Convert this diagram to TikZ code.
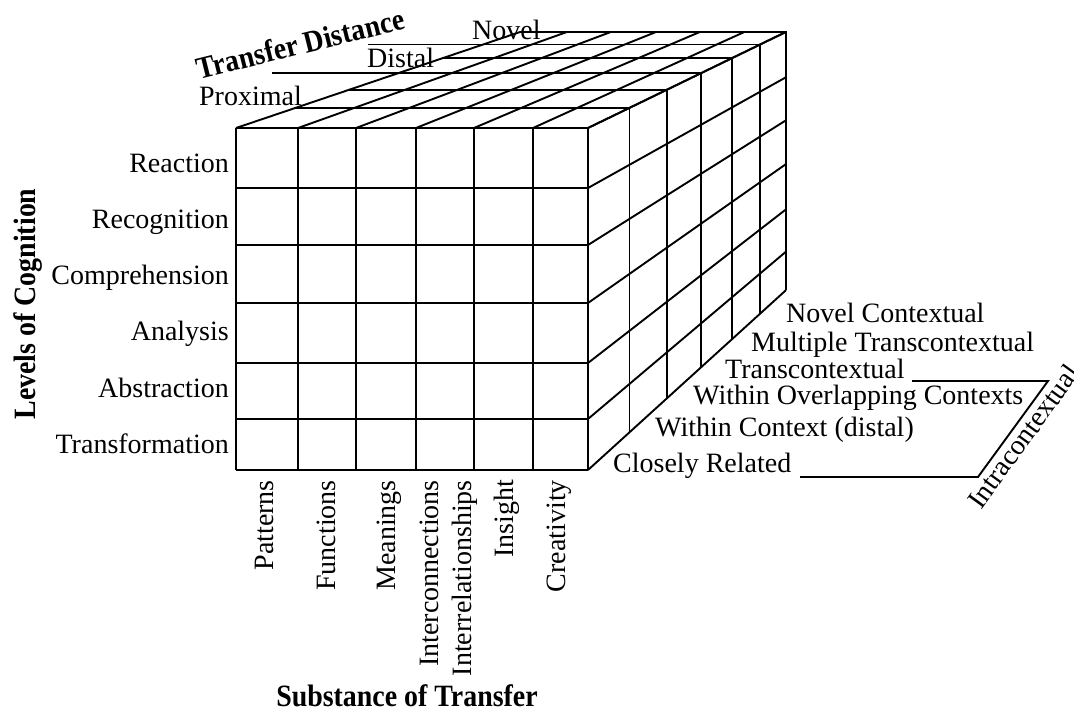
\documentclass[tikz,border=0pt]{standalone}
\usepackage{fontspec}
\setmainfont{Liberation Serif}
\begin{document}
\begin{tikzpicture}[x=1pt,y=-1pt,
  grid/.style={line width=1.9pt},
  lbl/.style={inner sep=0pt, font=\fontsize{28}{33}\selectfont},
  title/.style={inner sep=0pt, font=\fontsize{31}{35}\selectfont\bfseries}]
\useasboundingbox (0,0) rectangle (1074,712);

% vanishing point of the receding edges
\def\vpx{1396}\def\vpy{-264}
\pgfmathsetmacro\sb{1/(1+0.0541*6)}

% front face: 6 x 6 grid
\foreach \x in {236,298,356,416,474,533,588}
  \draw[grid] (\x,128) -- (\x,470);
\foreach \y in {128,188,245,303,363,419,470}
  \draw[grid] (236,\y) -- (588,\y);

% depth slices: top-face rows and right-face columns
\foreach \k in {0,...,6}{
  \pgfmathsetmacro\s{1/(1+0.0541*\k)}
  \pgfmathsetmacro\xl{\vpx+(236-\vpx)*\s}
  \pgfmathsetmacro\xr{\vpx+(588-\vpx)*\s}
  \pgfmathsetmacro\yt{\vpy+(128-\vpy)*\s}
  \pgfmathsetmacro\yb{\vpy+(470-\vpy)*\s}
  \draw[grid] (\xl,\yt) -- (\xr,\yt) -- (\xr,\yb);
  \coordinate (L\k) at (\xl,\yt);
}

% receding edges of the top face
\foreach \x in {236,298,356,416,474,533,588}
  \draw[grid] (\x,128) -- ({\vpx+(\x-\vpx)*\sb},{\vpy+(128-\vpy)*\sb});
% receding edges of the right face
\foreach \y in {128,188,245,303,363,419,470}
  \draw[grid] (588,\y) -- ({\vpx+(588-\vpx)*\sb},{\vpy+(\y-\vpy)*\sb});

% transfer distance markers
\draw[grid] (L3) -- ++(-126,0);
\draw[grid] (L5) -- ++(-115,0);
\node[title, rotate=14, xscale=0.9, anchor=base] (td) at (303,54) {Transfer Distance};
\node[lbl, anchor=base east] (prox) at (302,105) {Proximal};
\node[lbl, anchor=base west] (dist) at (367,67) {Distal};
\node[lbl, anchor=base west] (nov) at (472,39) {Novel};

% levels of cognition
\node[title, rotate=90, xscale=0.9, anchor=base] (loc) at (35,304) {Levels of Cognition};
\node[lbl, anchor=base east] (r1) at (229,172) {Reaction};
\node[lbl, anchor=base east] (r2) at (229,228) {Recognition};
\node[lbl, anchor=base east] (r3) at (229,284) {Comprehension};
\node[lbl, anchor=base east] (r4) at (229,340) {Analysis};
\node[lbl, anchor=base east] (r5) at (229,397) {Abstraction};
\node[lbl, anchor=base east] (r6) at (229,453) {Transformation};

% substance of transfer
\node[lbl, rotate=90, anchor=base east] (c1) at (273,480) {Patterns};
\node[lbl, rotate=90, anchor=base east] (c2) at (335,480) {Functions};
\node[lbl, rotate=90, anchor=base east] (c3) at (395,480) {Meanings};
\node[lbl, rotate=90, anchor=base east] (c4a) at (438,480) {Interconnections};
\node[lbl, rotate=90, anchor=base east] (c4b) at (471,480) {Interrelationships};
\node[lbl, rotate=90, anchor=base east] (c5) at (513,480) {Insight};
\node[lbl, rotate=90, anchor=base east] (c6) at (565,480) {Creativity};
\node[title, xscale=0.9, anchor=base] (sot) at (407,706) {Substance of Transfer};

% contexts
\node[lbl, anchor=base west] (d6) at (786,322) {Novel Contextual};
\node[lbl, anchor=base west] (d5) at (751,351) {Multiple Transcontextual};
\node[lbl, anchor=base west] (d4) at (725,378) {Transcontextual};
\node[lbl, anchor=base west] (d3) at (693,404) {Within Overlapping Contexts};
\node[lbl, anchor=base west] (d2) at (655,436) {Within Context (distal)};
\node[lbl, anchor=base west] (d1) at (613,472) {Closely Related};

% intracontextual bracket
\coordinate (b1) at (912,381);
\coordinate (b2) at (1048,381);
\coordinate (b3) at (978,477);
\coordinate (b4) at (800,477);
\draw[grid] (b1) -- (b2) -- (b3) -- (b4);
\node[lbl, rotate=54, anchor=base] (intra) at (1031,442) {Intracontextual};
\end{tikzpicture}
\end{document}
